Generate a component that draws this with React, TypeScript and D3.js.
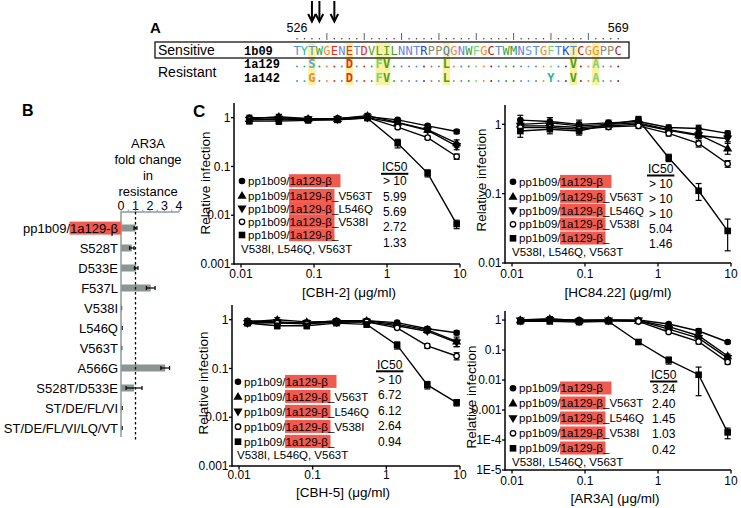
import React from 'react';
import * as d3 from 'd3';

const FONT = '"Liberation Sans", Arial, Helvetica, sans-serif';
const MONO = '"Liberation Mono", "DejaVu Sans Mono", monospace';
const SANSMONO = '"DejaVu Sans Mono", "Liberation Mono", monospace';
const RED = '#f05a4f';

// ---------------- Panel A data ----------------
const firstResidue = 526;
const lastResidue = 569;
const sensitiveName = '1b09';
const sensitiveSeq = 'TYTWGENETDVLILNNTRPPQGNWFGCTWMNSTGFTKTCGGPPC';
const resistantNames = ['1a129', '1a142'];
const resistant1a129: [number, string][] = [[528, 'S'], [533, 'D'], [537, 'F'], [538, 'V'], [546, 'L'], [563, 'V'], [566, 'A']];
const resistant1a142: [number, string][] = [[528, 'G'], [533, 'D'], [537, 'F'], [538, 'V'], [546, 'L'], [560, 'Y'], [563, 'V'], [566, 'A']];
const highlightedResidues = [528, 533, 537, 538, 546, 563, 566];
const arrowResidues = [528, 529, 531];
const residueColors: Record<string, string> = {
  T: '#5b8ed8', Y: '#2fb596', W: '#3aa33a', G: '#f08c2c', E: '#e3321c', N: '#6f7fe0', D: '#e3321c',
  V: '#48a020', L: '#48a020', I: '#48a020', R: '#2a44c8', P: '#8c8c6c', Q: '#4a7ed8', F: '#74d874',
  C: '#b01a1a', M: '#2e9a2e', S: '#5aa2e6', K: '#2a44c8', A: '#84d07c',
};

// ---------------- Panel B data ----------------
const mutantLabels = ['pp1b09/1a129-β', 'S528T', 'D533E', 'F537L', 'V538I', 'L546Q', 'V563T', 'A566G', 'S528T/D533E', 'ST/DE/FL/VI', 'ST/DE/FL/VI/LQ/VT'];
const foldChange = [1.0, 0.75, 1.05, 2.05, 0.02, 0.05, 0.03, 3.05, 0.9, 0.05, 0.05];
const foldErr = [0.1, 0.15, 0.12, 0.3, 0.02, 0.03, 0.02, 0.3, 0.55, 0.03, 0.03];
const foldTicks = [0, 1, 2, 3, 4];
const foldTitle = ['AR3A', 'fold change', 'in', 'resistance'];

// ---------------- Panel C data ----------------
const concentrations = [0.013, 0.033, 0.083, 0.21, 0.54, 1.4, 3.6, 9.0];
const xTickValues = [0.01, 0.1, 1, 10];
const xTickLabels = ['0.01', '0.1', '1', '10'];
const variantSuffixes = ['', 'V563T', 'L546Q', 'V538I', ''];
const variantMarkers = ['circle', 'triangle', 'triangleDown', 'open', 'square'];
const tripleSecondLine = 'V538I, L546Q, V563T';

const cbh2Parental = [1.0, 1.0, 0.95, 0.97, 1.05, 0.9, 0.68, 0.52];
const cbh2V563T = [0.95, 1.05, 0.95, 0.95, 1.1, 0.8, 0.57, 0.3];
const cbh2L546Q = [0.9, 0.95, 0.92, 0.92, 1.0, 0.78, 0.55, 0.26];
const cbh2V538I = [0.92, 0.9, 0.92, 0.95, 1.0, 0.64, 0.39, 0.16];
const cbh2Triple = [0.85, 0.85, 0.88, 0.9, 0.98, 0.3, 0.073, 0.0066];
const cbh2Errors = [
  [0.12, 0.15, 0.08, 0.08, 0.15, 0.06, 0.05, 0.05],
  [0.1, 0.12, 0.08, 0.08, 0.12, 0.06, 0.06, 0.05],
  [0.08, 0.1, 0.06, 0.06, 0.1, 0.05, 0.05, 0.04],
  [0.06, 0.08, 0.06, 0.06, 0.08, 0.05, 0.03, 0.02],
  [0.1, 0.12, 0.08, 0.08, 0.1, 0.06, 0.012, 0.0013],
];
const cbh2IC50 = ['> 10', '5.99', '5.69', '2.72', '1.33'];

const hc84Parental = [1.15, 1.1, 1.0, 1.05, 1.1, 0.9, 0.87, 0.74];
const hc84V563T = [1.0, 1.05, 0.95, 1.0, 1.05, 0.84, 0.71, 0.45];
const hc84L546Q = [0.95, 0.95, 0.9, 0.95, 1.0, 0.82, 0.69, 0.62];
const hc84V538I = [0.9, 0.9, 0.85, 0.92, 0.95, 0.74, 0.53, 0.27];
const hc84Triple = [0.8, 0.85, 0.8, 1.0, 1.15, 0.33, 0.11, 0.029];
const hc84Errors = [
  [0.2, 0.15, 0.15, 0.1, 0.1, 0.08, 0.1, 0.06],
  [0.15, 0.2, 0.12, 0.1, 0.1, 0.08, 0.08, 0.08],
  [0.12, 0.1, 0.1, 0.08, 0.08, 0.06, 0.06, 0.06],
  [0.1, 0.1, 0.1, 0.08, 0.08, 0.06, 0.06, 0.03],
  [0.15, 0.12, 0.1, 0.1, 0.15, 0.04, 0.03, 0.014],
];
const hc84IC50 = ['> 10', '> 10', '> 10', '5.04', '1.46'];

const cbh5Parental = [0.95, 0.9, 0.85, 0.95, 0.95, 0.87, 0.65, 0.54];
const cbh5V563T = [0.9, 1.0, 0.9, 0.92, 0.95, 0.8, 0.62, 0.36];
const cbh5L546Q = [0.85, 0.88, 0.85, 0.88, 0.9, 0.75, 0.58, 0.34];
const cbh5V538I = [0.9, 0.85, 0.82, 0.9, 0.9, 0.68, 0.29, 0.18];
const cbh5Triple = [0.85, 0.75, 0.75, 0.85, 0.8, 0.3, 0.046, 0.02];
const cbh5Errors = [
  [0.1, 0.1, 0.1, 0.1, 0.1, 0.06, 0.06, 0.05],
  [0.08, 0.1, 0.08, 0.08, 0.08, 0.06, 0.06, 0.08],
  [0.08, 0.08, 0.08, 0.08, 0.08, 0.06, 0.05, 0.06],
  [0.06, 0.06, 0.06, 0.06, 0.06, 0.05, 0.03, 0.03],
  [0.1, 0.1, 0.1, 0.08, 0.1, 0.05, 0.008, 0.003],
];
const cbh5IC50 = ['> 10', '6.72', '6.12', '2.64', '0.94'];

const ar3aParental = [1.0, 1.05, 1.0, 1.0, 1.0, 0.74, 0.43, 0.185];
const ar3aV563T = [1.0, 1.1, 0.95, 1.0, 0.95, 0.6, 0.3, 0.063];
const ar3aL546Q = [0.95, 1.0, 0.9, 0.95, 0.95, 0.5, 0.25, 0.054];
const ar3aV538I = [1.0, 0.95, 0.95, 0.95, 0.9, 0.4, 0.19, 0.04];
const ar3aTriple = [0.9, 0.9, 0.85, 0.9, 0.185, 0.046, 0.015, 0.00018];
const ar3aErrors = [
  [0.1, 0.15, 0.1, 0.08, 0.08, 0.06, 0.08, 0.02],
  [0.1, 0.2, 0.1, 0.08, 0.08, 0.06, 0.05, 0.01],
  [0.08, 0.1, 0.08, 0.06, 0.06, 0.05, 0.04, 0.008],
  [0.08, 0.08, 0.08, 0.06, 0.06, 0.04, 0.03, 0.006],
  [0.08, 0.1, 0.08, 0.08, 0.03, 0.012, 0.012, 0.00007],
];
const ar3aIC50 = ['3.24', '2.40', '1.45', '1.03', '0.42'];

const yTicksThree = [0.001, 0.01, 0.1, 1];
const yTickLabelsThree = ['0.001', '0.01', '0.1', '1'];
const yTicksTwo = [0.01, 0.1, 1];
const yTickLabelsTwo = ['0.01', '0.1', '1'];
const yTicksFive = [1e-5, 1e-4, 1e-3, 1e-2, 0.1, 1];
const yTickLabelsFive = ['1E-5', '1E-4', '0.001', '0.01', '0.1', '1'];

// ---------------- helpers ----------------
let ctx: CanvasRenderingContext2D | null = null;
function textWidth(s: string, size: number, weight = 'normal') {
  if (!ctx) ctx = document.createElement('canvas').getContext('2d');
  if (!ctx) return s.length * size * 0.55;
  ctx.font = `${weight} ${size}px "Liberation Sans"`;
  return ctx.measureText(s).width;
}

function Marker({ kind, cx, cy }: { kind: string; cx: number; cy: number }) {
  if (kind === 'circle') return <circle cx={cx} cy={cy} r={3.3} fill="#000" />;
  if (kind === 'open') return <circle cx={cx} cy={cy} r={2.7} fill="#fff" stroke="#000" strokeWidth={1.3} />;
  if (kind === 'square') return <rect x={cx - 3.3} y={cy - 3.3} width={6.6} height={6.6} fill="#000" />;
  const d = d3.symbol().type(d3.symbolTriangle).size(36)() as string;
  const rot = kind === 'triangleDown' ? 180 : 0;
  return <path d={d} transform={`translate(${cx},${cy + (rot ? -0.5 : 0.5)}) rotate(${rot})`} fill="#000" />;
}

// ---------------- Panel A ----------------
function PanelA() {
  const xA = d3.scaleLinear().domain([firstResidue, lastResidue]).range([297, 297 + 43 * 7.47]);
  const residues = d3.range(firstResidue, lastResidue + 1);
  const colW = 7.47;
  const resistantRows = [resistant1a129, resistant1a142];
  const rowY = [67.5, 82];
  return (
    <g>
      <text x={150} y={33} fontSize={15} fontWeight="bold">A</text>
      {arrowResidues.map((r) => (
        <g key={r} stroke="#000" strokeWidth={2} fill="none">
          <line x1={xA(r)} x2={xA(r)} y1={1} y2={21} />
          <polyline points={`${xA(r) - 3.8},14 ${xA(r)},21.5 ${xA(r) + 3.8},14`} />
        </g>
      ))}
      <text x={xA(firstResidue)} y={32} textAnchor="middle" fontSize={12.5}>{firstResidue}</text>
      <text x={xA(lastResidue)} y={32} textAnchor="middle" fontSize={12.5}>{lastResidue}</text>
      {residues.map((r) =>
        r % 5 === 0 ? (
          <line key={r} x1={xA(r)} x2={xA(r)} y1={33} y2={40} stroke="#333" strokeWidth={0.8} />
        ) : (
          <circle key={r} cx={xA(r)} cy={38.8} r={0.75} fill="#333" />
        )
      )}
      {highlightedResidues.map((r) => (
        <rect key={r} x={xA(r) - colW / 2} y={43} width={colW} height={42} fill="#fbf1a2" />
      ))}
      <rect x={155} y={42} width={474} height={16} fill="none" stroke="#000" strokeWidth={1.2} />
      <text x={158} y={55} fontSize={14}>Sensitive</text>
      <text x={158} y={77} fontSize={14}>Resistant</text>
      <text x={244} y={54.5} fontSize={12} fontWeight="bold" fontFamily={MONO}>{sensitiveName}</text>
      {resistantNames.map((n, i) => (
        <text key={n} x={244} y={rowY[i]} fontSize={12} fontWeight="bold" fontFamily={MONO}>{n}</text>
      ))}
      {residues.map((r, i) => (
        <text key={r} x={xA(r)} y={54.5} textAnchor="middle" fontSize={12} fontFamily={SANSMONO} fill={residueColors[sensitiveSeq[i]]}>
          {sensitiveSeq[i]}
        </text>
      ))}
      {resistantRows.map((muts, k) => {
        const m = new Map(muts);
        return residues.map((r, i) => {
          const aa = m.get(r);
          return aa ? (
            <text key={`${k}-${r}`} x={xA(r)} y={rowY[k]} textAnchor="middle" fontSize={12} fontWeight="bold" fontFamily={SANSMONO} fill={residueColors[aa]}>
              {aa}
            </text>
          ) : (
            <circle key={`${k}-${r}`} cx={xA(r)} cy={rowY[k] - 1} r={1} fill={residueColors[sensitiveSeq[i]]} />
          );
        });
      })}
    </g>
  );
}

// ---------------- Panel B ----------------
function PanelB() {
  const x = d3.scaleLinear().domain([0, 4]).range([121, 179]);
  const y = d3.scalePoint<string>().domain(mutantLabels).range([228, 428]);
  const axisColor = '#8c9c9c';
  const titleY = [147.5, 164, 179.5, 196];
  const fs = 13;
  const minor = d3.range(0, 4.01, 0.5);
  return (
    <g>
      <text x={22} y={116} fontSize={16} fontWeight="bold">B</text>
      {foldTitle.map((t, i) => (
        <text key={t} x={148} y={titleY[i]} textAnchor="middle" fontSize={fs}>{t}</text>
      ))}
      {foldTicks.map((t) => (
        <text key={t} x={x(t)} y={209.5} textAnchor="middle" fontSize={12.5}>{t}</text>
      ))}
      {minor.map((t) => (
        <line key={t} x1={x(t)} x2={x(t)} y1={212} y2={209.5} stroke={axisColor} strokeWidth={1} />
      ))}
      <line x1={x(0)} x2={x(4)} y1={212} y2={212} stroke={axisColor} strokeWidth={1.5} />
      {mutantLabels.map((l, i) => {
        const cy = y(l) as number;
        const v = foldChange[i];
        const e = foldErr[i];
        return (
          <g key={l}>
            <rect x={x(0)} y={cy - 3.5} width={Math.max(0.8, x(v) - x(0))} height={7} fill="#8c9494" />
            <g stroke="#000" strokeWidth={1.2}>
              <line x1={x(Math.max(0, v - e))} x2={x(v + e)} y1={cy} y2={cy} />
              <line x1={x(v + e)} x2={x(v + e)} y1={cy - 2} y2={cy + 2} />
              {v - e > 0.05 && <line x1={x(v - e)} x2={x(v - e)} y1={cy - 2} y2={cy + 2} />}
            </g>
          </g>
        );
      })}
      <line x1={x(0)} x2={x(0)} y1={212} y2={437} stroke={axisColor} strokeWidth={1.5} />
      <line x1={x(1)} x2={x(1)} y1={212} y2={441} stroke="#000" strokeWidth={1.3} strokeDasharray="2.5,2.5" />
      {mutantLabels.map((l, i) => {
        const cy = (y(l) as number) + 4.6;
        if (i === 0) {
          const [a, b] = l.split('/');
          const w1 = textWidth(a + '/', fs);
          const w2 = textWidth(b, fs);
          const sx = 118 - w1 - w2;
          return (
            <g key={l}>
              <rect x={sx + w1 - 0.5} y={cy - 11} width={121 - (sx + w1 - 0.5)} height={13} fill={RED} />
              <text x={sx} y={cy} fontSize={fs}>{a + '/'}</text>
              <text x={sx + w1} y={cy} fontSize={fs}>{b}</text>
            </g>
          );
        }
        return (
          <text key={l} x={118} y={cy} textAnchor="end" fontSize={fs}>{l}</text>
        );
      })}
    </g>
  );
}

// ---------------- Panel C ----------------
type PanelCfg = {
  title: string;
  series: number[][];
  errors: number[][];
  ic50: string[];
  yMin: number;
  yMax: number;
  yTicks: number[];
  yTickLabels: string[];
  xr: [number, number];
  yr: [number, number];
  xLabelY: number;
  titleX: number;
  titleY: number;
  yTitle: [number, number];
  mx: number;
  rows: number[];
  extraY: number;
  icx: number;
  icHeader: number;
  icLine: number;
  icRows: number[];
};

const xMinConc = Math.pow(10, -2.096);

const panels: PanelCfg[] = [
  {
    title: '[CBH-2] (μg/ml)', series: [cbh2Parental, cbh2V563T, cbh2L546Q, cbh2V538I, cbh2Triple], errors: cbh2Errors, ic50: cbh2IC50,
    yMin: 0.001, yMax: 2, yTicks: yTicksThree, yTickLabels: yTickLabelsThree,
    xr: [234, 460], yr: [264, 103], xLabelY: 278, titleX: 349, titleY: 297, yTitle: [210, 183],
    mx: 242, rows: [181, 195.7, 208.6, 221.8, 235], extraY: 248.5,
    icx: 382, icHeader: 171, icLine: 173.8, icRows: [180.7, 196.7, 211.7, 226.7, 242.7],
  },
  {
    title: '[HC84.22] (μg/ml)', series: [hc84Parental, hc84V563T, hc84L546Q, hc84V538I, hc84Triple], errors: hc84Errors, ic50: hc84IC50,
    yMin: 0.01, yMax: 1.9, yTicks: yTicksTwo, yTickLabels: yTickLabelsTwo,
    xr: [505, 731], yr: [263, 105], xLabelY: 278, titleX: 618, titleY: 297, yTitle: [486, 180],
    mx: 513, rows: [181.7, 196.7, 210.5, 224.3, 238.3], extraY: 252,
    icx: 648, icHeader: 172.5, icLine: 175.5, icRows: [183.3, 198.3, 213.3, 228.3, 243.3],
  },
  {
    title: '[CBH-5] (μg/ml)', series: [cbh5Parental, cbh5V563T, cbh5L546Q, cbh5V538I, cbh5Triple], errors: cbh5Errors, ic50: cbh5IC50,
    yMin: 0.001, yMax: 2, yTicks: yTicksThree, yTickLabels: yTickLabelsThree,
    xr: [232, 460], yr: [466, 305], xLabelY: 479, titleX: 343, titleY: 497, yTitle: [208, 383],
    mx: 238, rows: [381.7, 396.7, 411.7, 426.7, 441.7], extraY: 455,
    icx: 377, icHeader: 368.5, icLine: 371.3, icRows: [380, 395, 410.7, 425.5, 441.7],
  },
  {
    title: '[AR3A] (μg/ml)', series: [ar3aParental, ar3aV563T, ar3aL546Q, ar3aV538I, ar3aTriple], errors: ar3aErrors, ic50: ar3aIC50,
    yMin: 1e-5, yMax: 2, yTicks: yTicksFive, yTickLabels: yTickLabelsFive,
    xr: [505, 731], yr: [470, 311], xLabelY: 485, titleX: 615, titleY: 503, yTitle: [476, 397],
    mx: 513, rows: [388.3, 403.3, 418.3, 433.3, 448.3], extraY: 462,
    icx: 651, icHeader: 378.5, icLine: 381.5, icRows: [388.3, 403.3, 418.3, 433.3, 449.3],
  },
];

function Legend({ p }: { p: PanelCfg }) {
  const fs = 11.5;
  const wPre = textWidth('pp1b09/', fs);
  const wRed = textWidth('1a129-β', fs);
  return (
    <g fontSize={fs}>
      {p.rows.map((ry, i) => {
        const tx = p.mx + 6;
        const bx = tx + wPre;
        const extra = i === 0 ? 9 : 3;
        const tail = i === 0 ? '' : '_' + variantSuffixes[i];
        return (
          <g key={i}>
            <Marker kind={variantMarkers[i]} cx={p.mx} cy={ry} />
            <rect x={bx - 0.5} y={ry - 6.8} width={wRed + extra} height={13} fill={RED} />
            <text x={tx} y={ry + 4.1}>pp1b09/</text>
            <text x={bx} y={ry + 4.1}>{'1a129-β' + tail}</text>
          </g>
        );
      })}
      <text x={p.mx - 1} y={p.extraY + 4.1}>{tripleSecondLine}</text>
      <text x={p.icx} y={p.icHeader} fontSize={12}>IC50</text>
      <line x1={p.icx - 1} x2={p.icx + textWidth('IC50', 12) + 1} y1={p.icLine} y2={p.icLine} stroke="#000" strokeWidth={2} />
      {p.ic50.map((v, i) => (
        <text key={i} x={p.icx + 1} y={p.icRows[i] + 4.3} fontSize={12}>{v}</text>
      ))}
    </g>
  );
}

function CurvePanel({ p }: { p: PanelCfg }) {
  const x = d3.scaleLog().domain([xMinConc, 10]).range(p.xr);
  const y = d3.scaleLog().domain([p.yMin, p.yMax]).range(p.yr);
  const lineGen = d3.line<number>().x((_, i) => x(concentrations[i])).y((d) => y(d));
  const [x0, x1] = p.xr;
  const [yb, yt] = p.yr;
  return (
    <g>
      {p.series.map((s, k) => (
        <path key={k} d={lineGen(s) as string} fill="none" stroke="#000" strokeWidth={1.4} />
      ))}
      {p.series.map((s, k) =>
        s.map((v, i) => {
          const e = p.errors[k][i];
          const cx = x(concentrations[i]);
          const hi = y(v + e);
          const lo = y(Math.max(v - e, v * 0.15));
          return (
            <g key={`${k}-${i}`} stroke="#000" strokeWidth={1.2}>
              <line x1={cx} x2={cx} y1={hi} y2={lo} />
              <line x1={cx - 3} x2={cx + 3} y1={hi} y2={hi} />
              <line x1={cx - 3} x2={cx + 3} y1={lo} y2={lo} />
            </g>
          );
        })
      )}
      {p.series.map((s, k) =>
        s.map((v, i) => <Marker key={`${k}-${i}`} kind={variantMarkers[k]} cx={x(concentrations[i])} cy={y(v)} />)
      )}
      <line x1={x0} x2={x1} y1={yb} y2={yb} stroke="#000" strokeWidth={1.5} />
      <line x1={x0} x2={x0} y1={yb + 0.75} y2={yt} stroke="#000" strokeWidth={1.5} />
      {p.yTicks.map((t, i) => (
        <g key={t}>
          <line x1={x0 - 3} x2={x0} y1={y(t)} y2={y(t)} stroke="#000" strokeWidth={1.3} />
          <text x={x0 - 3.5} y={y(t) + 4.2} textAnchor="end" fontSize={12}>{p.yTickLabels[i]}</text>
        </g>
      ))}
      {xTickValues.map((t, i) => (
        <g key={t}>
          <line x1={x(t)} x2={x(t)} y1={yb} y2={yb + 3.5} stroke="#000" strokeWidth={1.3} />
          <text x={x(t)} y={p.xLabelY} textAnchor="middle" fontSize={12}>{xTickLabels[i]}</text>
        </g>
      ))}
      <text x={p.titleX} y={p.titleY} textAnchor="middle" fontSize={13.5}>{p.title}</text>
      <text transform={`translate(${p.yTitle[0]},${p.yTitle[1]}) rotate(-90)`} textAnchor="middle" fontSize={13.5}>
        Relative infection
      </text>
      <Legend p={p} />
    </g>
  );
}

export default function App() {
  return (
    <svg
      width={741}
      height={508}
      viewBox="0 0 741 508"
      style={{ position: 'absolute', left: 0, top: 0, display: 'block' }}
      fontFamily={FONT}
    >
      <rect x={0} y={0} width={741} height={508} fill="#fff" />
      <PanelA />
      <PanelB />
      <text x={193} y={117} fontSize={17} fontWeight="bold">C</text>
      {panels.map((p) => (
        <CurvePanel key={p.title} p={p} />
      ))}
    </svg>
  );
}
